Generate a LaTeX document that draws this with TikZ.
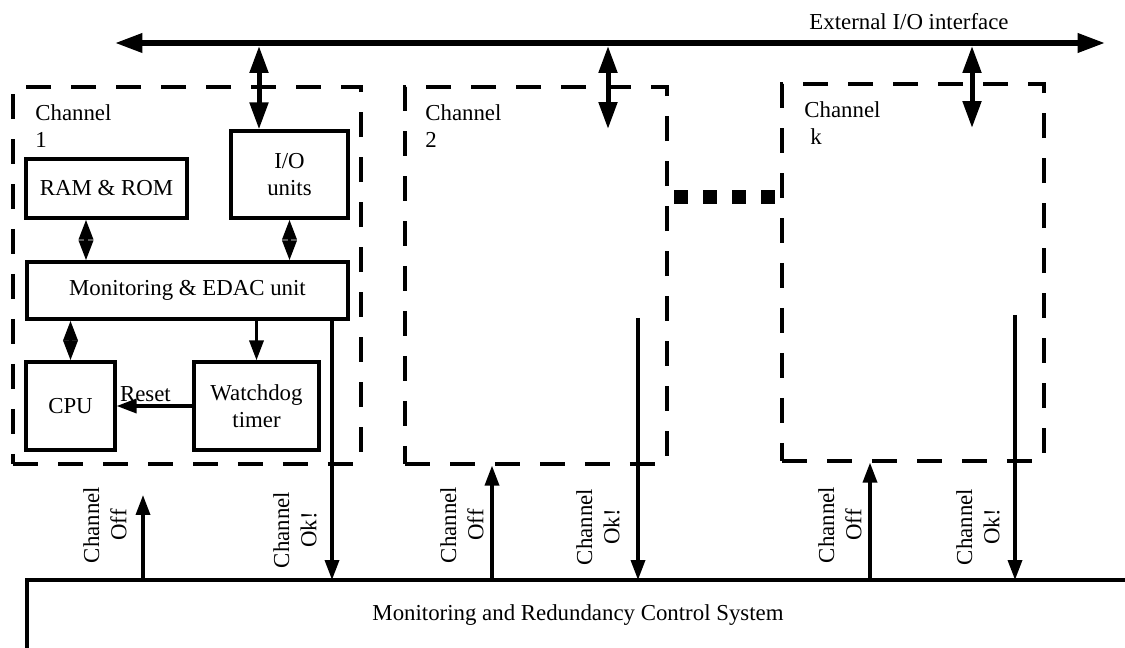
\documentclass[tikz,border=0pt]{standalone}
\usepackage{fontspec}
\setmainfont{Liberation Serif}
\usetikzlibrary{arrows.meta}

\tikzset{
  box/.style={draw, line width=0.065cm, align=center, inner sep=0pt},
  chanbox/.style={draw, line width=0.065cm, dash pattern=on 0.5cm off 0.4cm},
  bus/.style={line width=0.11cm, {Triangle[length=0.55cm,width=0.37cm]}-{Triangle[length=0.55cm,width=0.37cm]}},
  link/.style={line width=0.1cm, {Triangle[length=0.54cm,width=0.36cm]}-{Triangle[length=0.54cm,width=0.36cm]}},
  sig/.style={line width=0.07cm, -{Triangle[length=0.4cm,width=0.28cm]}},
  dsig/.style={line width=0.07cm, {Triangle[length=0.4cm,width=0.28cm]}-{Triangle[length=0.4cm,width=0.28cm]}},
  vlabel/.style={rotate=90, align=center, inner sep=0pt},
  chlabel/.style={anchor=north west, align=left, inner sep=0pt}
}

\begin{document}
\begin{tikzpicture}[x=0.02cm, y=-0.02cm, font=\fontsize{13}{15.5}\selectfont]
    \useasboundingbox (0,0) rectangle (1125,648);

    % External bus
    \coordinate (busL) at (115,43);
    \coordinate (busR) at (1105,43);
    \draw[bus] (busL) -- (busR);
    \node (ext) at (909,22) {External I/O interface};

    % Channel frames (dashed)
    \node (ch1) [chanbox, minimum width=6.96cm, minimum height=7.54cm] at (187,275.5) {};
    \node (ch2) [chanbox, minimum width=5.24cm, minimum height=7.54cm] at (536,275.5) {};
    \node (chk) [chanbox, minimum width=5.24cm, minimum height=7.54cm] at (913,272.5) {};
    \node (ch1name) [chlabel] at (35,104) {Channel\\1};
    \node (ch2name) [chlabel] at (425,104) {Channel\\2};
    \node (chkname) [chlabel] at (804,101) {Channel\\\hspace{0.12cm}k};

    % dots between channel 2 and k
    \foreach \i in {0,...,3}
        \fill (674+29*\i,190) rectangle ++(14,14);

    % Units of channel 1
    \node (ram) [box, minimum width=3.22cm, minimum height=1.18cm] at (106.5,188.5) {RAM \& ROM};
    \node (io) [box, minimum width=2.34cm, minimum height=1.74cm] at (289.5,174.5) {I/O\\units};
    \node (edac) [box, minimum width=6.42cm, minimum height=1.14cm] at (187.5,290.5) {Monitoring \& EDAC unit};
    \node (cpu) [box, minimum width=1.78cm, minimum height=1.76cm] at (70.5,406) {CPU};
    \node (wdt) [box, minimum width=2.5cm, minimum height=1.76cm] at (256.5,406) {Watchdog\\timer};

    % links inside channel 1
    \coordinate (ramtap) at (86,0);
    \draw[dsig] (ram.south -| ramtap) -- (edac.north -| ramtap);
    \draw[dsig] (io.south) -- (edac.north -| io.south);
    \draw[dsig] (edac.south -| cpu.north) -- (cpu.north);
    \draw[sig] (edac.south -| wdt.north) -- (wdt.north);
    \draw[sig] (wdt.west) -- node[above, pos=0.62, inner sep=1.5pt] {Reset} (cpu.east);

    % taps on the bus
    \coordinate (tap1) at (259,46);
    \draw[link] (tap1) -- (tap1 |- io.north);
    \coordinate (tap2) at (608,46);
    \coordinate (end2) at (608,129);
    \draw[link] (tap2) -- (end2);
    \coordinate (tapk) at (972,46);
    \coordinate (endk) at (972,128);
    \draw[link] (tapk) -- (endk);

    % Monitoring and redundancy control system
    \coordinate (sysL) at (27,648);
    \coordinate (sysR) at (1125,580);
    \draw[line width=0.08cm] (sysL) |- (sysR);
    \node (mrcs) at (578,615) {Monitoring and Redundancy Control System};

    % Channel Off / Channel Ok! signals
    \coordinate (off1) at (143,580);
    \coordinate (off1tip) at (143,495);
    \draw[sig] (off1) -- (off1tip);
    \coordinate (ok1) at (332,580);
    \draw[sig] (edac.south -| ok1) -- (ok1);
    \node (off1lab) [vlabel] at (105,525) {Channel\\Off};
    \node (ok1lab) [vlabel] at (295,530) {Channel\\Ok!};

    \coordinate (off2) at (492,580);
    \draw[sig] (off2) -- (off2 |- ch2.south);
    \coordinate (ok2s) at (638,318);
    \coordinate (ok2) at (638,580);
    \draw[sig] (ok2s) -- (ok2);
    \node (off2lab) [vlabel] at (462,525) {Channel\\Off};
    \node (ok2lab) [vlabel] at (598,527) {Channel\\Ok!};

    \coordinate (offk) at (870,580);
    \draw[sig] (offk) -- (offk |- chk.south);
    \coordinate (okks) at (1015,315);
    \coordinate (okk) at (1015,580);
    \draw[sig] (okks) -- (okk);
    \node (offklab) [vlabel] at (840,525) {Channel\\Off};
    \node (okklab) [vlabel] at (978,527) {Channel\\Ok!};
\end{tikzpicture}
\end{document}
